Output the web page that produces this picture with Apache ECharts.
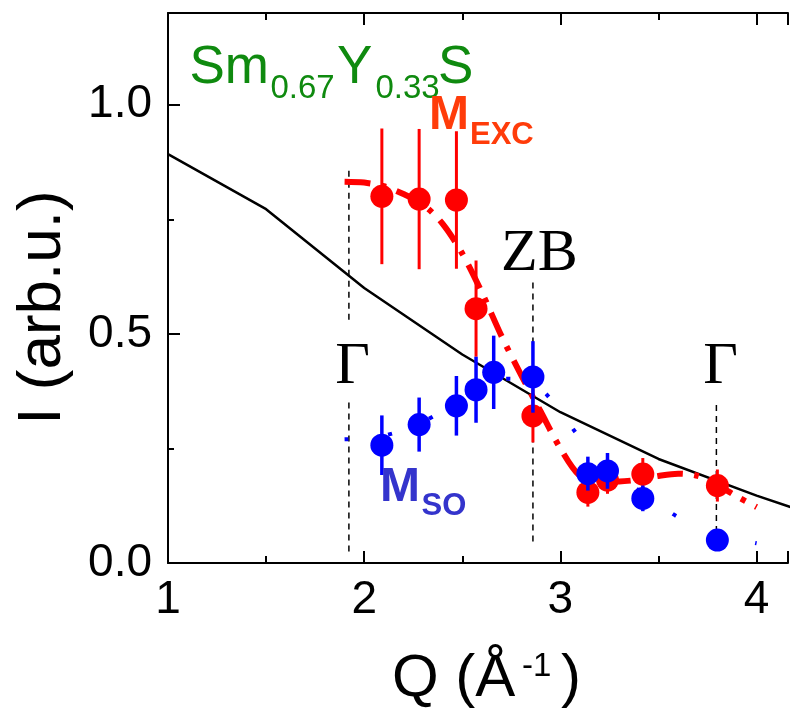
<!DOCTYPE html>
<html>
<head>
<meta charset="utf-8">
<title>Sm0.67Y0.33S intensity vs Q</title>
<script src="https://cdn.jsdelivr.net/npm/echarts@6/dist/echarts.min.js"></script>
<style>
  html, body { margin: 0; padding: 0; background: #fff; }
  #chart { width: 791px; height: 713px; }
</style>
</head>
<body>
<div id="chart"></div>
<script>
// Axis ticks
const xTicks = [1, 2, 3, 4];
const yTicks = [0.0, 0.5, 1.0];

// Exciton mode M_EXC: Q, intensity, error
const excQ = [2.09, 2.28, 2.47, 2.57, 2.86, 3.14, 3.24, 3.42, 3.80];
const excI = [0.800, 0.794, 0.792, 0.555, 0.321, 0.154, 0.181, 0.194, 0.169];
const excErr = [0.148, 0.153, 0.150, 0.105, 0.058, 0.031, 0.030, 0.035, 0.035];

// Spin-orbit mode M_SO: Q, intensity, error
const soQ = [2.09, 2.28, 2.47, 2.57, 2.66, 2.86, 3.14, 3.24, 3.42, 3.80];
const soI = [0.257, 0.302, 0.343, 0.378, 0.416, 0.406, 0.195, 0.201, 0.141, 0.050];
const soErr = [0.065, 0.059, 0.065, 0.072, 0.080, 0.078, 0.037, 0.039, 0.028, 0.015];

// Guide curves through each mode
const fitQ = [1.90, 2.00, 2.10, 2.20, 2.30, 2.40, 2.50, 2.60, 2.70, 2.80, 2.90,
              3.00, 3.10, 3.20, 3.30, 3.40, 3.50, 3.60, 3.70, 3.80, 3.90, 4.00];
const fitExcI = [0.832, 0.830, 0.822, 0.805, 0.782, 0.740, 0.675, 0.590, 0.495, 0.410, 0.330,
                 0.250, 0.190, 0.178, 0.178, 0.182, 0.190, 0.195, 0.190, 0.170, 0.145, 0.122];
const fitSoI = [0.270, 0.272, 0.278, 0.290, 0.308, 0.332, 0.360, 0.386, 0.402, 0.400, 0.380,
                0.330, 0.272, 0.222, 0.188, 0.158, 0.128, 0.100, 0.080, 0.063, 0.052, 0.043];

// Sm3+ magnetic form factor (solid black)
const formQ = [1.0, 1.5, 2.0, 2.5, 3.0, 3.5, 4.0, 4.2];
const formI = [0.892, 0.772, 0.600, 0.455, 0.329, 0.227, 0.147, 0.118];

// High-symmetry points: Q position and visible intensity spans of the dashed markers
const symLabels = ['Γ', 'ZB', 'Γ'];
const symQ = [1.922, 2.860, 3.795];
const symSpans = [
  [[0.856, 0.531], [0.350, 0.025]],
  [[0.612, 0.044]],
  [[0.345, 0.028]]
];

const SANS = "'Liberation Sans', Arial, Helvetica, sans-serif";
const SERIF = "'Liberation Serif', 'Times New Roman', serif";
const RED = '#ff0000';
const BLUE = '#0000ff';

const zip = (a, b) => a.map((v, i) => [v, b[i]]);
const errData = (q, v, e) => q.map((x, i) => [x, v[i] - e[i], v[i] + e[i]]);

function errorSeries(name, data, color, width, z) {
  return {
    name, type: 'custom', z, data,
    renderItem(params, api) {
      const p1 = api.coord([api.value(0), api.value(1)]);
      const p2 = api.coord([api.value(0), api.value(2)]);
      return {
        type: 'line',
        shape: { x1: p1[0], y1: p1[1], x2: p2[0], y2: p2[1] },
        style: { stroke: color, lineWidth: width }
      };
    }
  };
}

const guideSeries = [];
symQ.forEach((q, k) => {
  symSpans[k].forEach(span => {
    guideSeries.push({
      type: 'line', z: 2, symbol: 'none', silent: true,
      data: [[q, span[0]], [q, span[1]]],
      lineStyle: { color: '#000', width: 1.5, type: [6, 5] }
    });
  });
});

const axisCommon = {
  type: 'value', min: 1, max: 4.16, interval: 1,
  axisLine: { show: true, onZero: false, lineStyle: { color: '#000', width: 2 } },
  axisTick: { show: true, inside: true, length: 12, lineStyle: { color: '#000', width: 2 } },
  minorTick: { show: true, splitNumber: 2, length: 7, lineStyle: { color: '#000', width: 2 } },
  splitLine: { show: false }
};

function txt(text, x, y, font, color, align) {
  return {
    type: 'text', z: 20, silent: true,
    style: { text, x, y, font, fill: color, textAlign: align || 'left', textVerticalAlign: 'middle' }
  };
}

const GREEN = '#0f8a0f';
const EXC = '#ff3c0a';
const SO = '#3434cc';

const option = {
  animation: false,
  backgroundColor: '#fff',
  grid: { left: 168, top: 13, width: 626, height: 550, containLabel: false },
  xAxis: [
    Object.assign({}, axisCommon, {
      position: 'bottom',
      axisLabel: {
        show: true, margin: 14, color: '#000', fontSize: 46, fontFamily: SANS,
        formatter: v => (xTicks.includes(Math.round(v * 1000) / 1000) ? String(v) : '')
      }
    }),
    Object.assign({}, axisCommon, { position: 'top', axisLabel: { show: false } })
  ],
  yAxis: {
    type: 'value', min: 0, max: 1.2, interval: 0.5,
    axisLine: { show: true, onZero: false, lineStyle: { color: '#000', width: 2 } },
    axisTick: { show: true, inside: true, length: 12, lineStyle: { color: '#000', width: 2 } },
    minorTick: { show: true, splitNumber: 2, length: 6, lineStyle: { color: '#000', width: 2 } },
    splitLine: { show: false },
    axisLabel: {
      margin: 16, color: '#000', fontSize: 46, fontFamily: SANS,
      formatter: v => {
        const r = Math.round(v * 1000) / 1000;
        return yTicks.includes(r) ? r.toFixed(1) : '';
      }
    }
  },
  series: [
    {
      name: 'form factor', type: 'line', z: 2, symbol: 'none', silent: true,
      data: zip(formQ, formI),
      lineStyle: { color: '#000', width: 2.5 }
    },
    ...guideSeries,
    {
      name: 'M_EXC fit', type: 'line', z: 3, symbol: 'none', smooth: 0.3, silent: true,
      data: zip(fitQ, fitExcI),
      lineStyle: { color: RED, width: 6, type: [26, 11, 5, 11], cap: 'butt' }
    },
    {
      name: 'M_SO fit', type: 'line', z: 3, symbol: 'none', smooth: 0.3, silent: true,
      data: zip(fitQ, fitSoI),
      lineStyle: { color: BLUE, width: 4, type: [4, 40], cap: 'butt' }
    },
    errorSeries('M_EXC err', errData(excQ, excI, excErr), RED, 3, 4),
    {
      name: 'M_EXC', type: 'scatter', z: 5, symbol: 'circle', symbolSize: 23,
      data: zip(excQ, excI), itemStyle: { color: RED, opacity: 1 }
    },
    errorSeries('M_SO err', errData(soQ, soI, soErr), BLUE, 3.5, 6),
    {
      name: 'M_SO', type: 'scatter', z: 7, symbol: 'circle', symbolSize: 23,
      data: zip(soQ, soI), itemStyle: { color: BLUE, opacity: 1 }
    }
  ],
  graphic: [
    // compound label
    txt('Sm', 189.5, 87 - 18.4, `53px ${SANS}`, GREEN),
    txt('0.67', 270.5, 100 - 11.4, `33px ${SANS}`, GREEN),
    txt('Y', 337, 87 - 18.4, `53px ${SANS}`, GREEN),
    txt('0.33', 375.5, 100 - 11.4, `33px ${SANS}`, GREEN),
    txt('S', 438, 87 - 18.4, `53px ${SANS}`, GREEN),
    // mode labels
    txt('M', 429, 132 - 16.6, `bold 48px ${SANS}`, EXC),
    txt('EXC', 470, 146 - 10.7, `bold 31px ${SANS}`, EXC),
    txt('M', 380, 504 - 16.6, `bold 48px ${SANS}`, SO),
    txt('SO', 421.5, 517 - 10.7, `bold 31px ${SANS}`, SO),
    // high-symmetry point labels
    txt(symLabels[0], 352.5, 388 - 20.3, `60px ${SERIF}`, '#000', 'center'),
    txt(symLabels[1], 501, 275 - 20.3, `60px ${SERIF}`, '#000'),
    txt(symLabels[2], 720.5, 388 - 20.3, `60px ${SERIF}`, '#000', 'center'),
    // axis titles
    {
      type: 'text', z: 20, silent: true, x: 42.5, y: 307.5, rotation: Math.PI / 2,
      style: { text: 'I (arb.u.)', x: 0, y: 0, font: `62px ${SANS}`, fill: '#000',
               textAlign: 'center', textVerticalAlign: 'middle' }
    },
    txt('Q (Å', 392, 700 - 20.8, `60px ${SANS}`, '#000'),
    txt('-1', 522, 678 - 11.1, `33px ${SANS}`, '#000'),
    txt(')', 561, 700 - 20.8, `60px ${SANS}`, '#000')
  ]
};

const chart = echarts.init(document.getElementById('chart'), null, { renderer: 'canvas' });
chart.setOption(option);
</script>
</body>
</html>
